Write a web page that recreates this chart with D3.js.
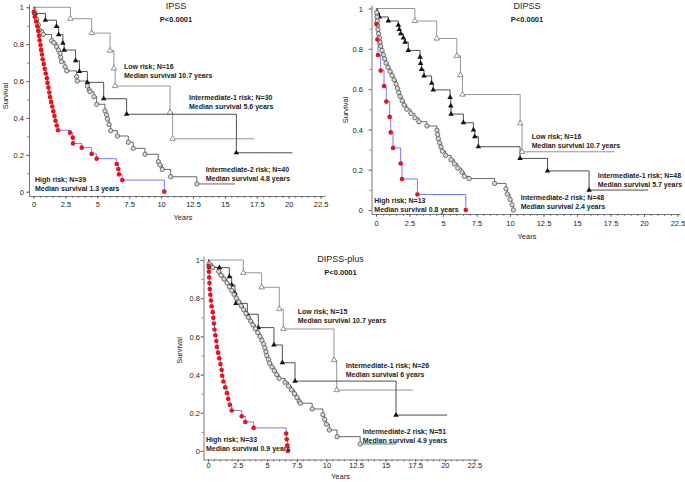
<!DOCTYPE html>
<html>
<head>
<meta charset="utf-8">
<script src="https://cdn.jsdelivr.net/npm/d3@7"></script>
<style>
body { margin: 0; background: #fff; }
svg { display: block; font-family: Arial, "Liberation Sans", sans-serif; }
</style>
</head>
<body>
<div id="chart"></div>
<script>
var xTicks = [0, 2.5, 5, 7.5, 10, 12.5, 15, 17.5, 20, 22.5];
var xTickLabels = ["0", "2.5", "5", "7.5", "10", "12.5", "15", "17.5", "20", "22.5"];
var yTicks = [0, 0.2, 0.4, 0.6, 0.8, 1];
var yTickLabels = ["0", "0.2", "0.4", "0.6", "0.8", "1"];

// each point = [years, survival] right after a death; *End = last follow-up
var ipssLow = [[2.9,0.938],[4.56,0.86],[6.0,0.765],[6.3,0.669],[6.4,0.573],[10.7,0.43],[10.9,0.287]];
var ipssLowEnd = 17.3;
var ipssInt1 = [[0.12,0.967],[0.93,0.93],[1.8,0.897],[1.97,0.852],[2.3,0.806],[2.4,0.768],[3.3,0.71],
  [3.6,0.652],[4.22,0.593],[5.5,0.504],[7.3,0.42],[15.9,0.211]];
var ipssInt1End = 20.3;
var ipssInt2 = [[0.07,0.971],[0.25,0.935],[0.38,0.904],[0.46,0.877],[0.77,0.853],[1.42,0.819],[1.6,0.808],
  [1.82,0.786],[1.95,0.768],[2.08,0.75],[2.13,0.729],[2.2,0.705],[2.47,0.678],[2.6,0.655],[3.38,0.624],
  [3.43,0.6],[4.22,0.573],[4.37,0.552],[4.43,0.542],[4.74,0.515],[4.95,0.474],[5.6,0.438],[5.74,0.416],
  [5.79,0.394],[5.92,0.365],[6.05,0.331],[6.57,0.302],[7.43,0.268],[7.82,0.235],[8.74,0.203],[9.78,0.163],
  [9.91,0.145],[10.1,0.121],[10.75,0.081],[12.8,0.042]];
var ipssInt2End = 15.8;
var ipssHigh = [[0.03,0.974],[0.1,0.949],[0.2,0.923],[0.3,0.897],[0.37,0.872],[0.43,0.846],[0.48,0.821],
  [0.55,0.795],[0.6,0.769],[0.66,0.744],[0.72,0.718],[0.8,0.692],[0.88,0.667],[0.96,0.641],[1.05,0.615],
  [1.1,0.59],[1.17,0.564],[1.24,0.538],[1.3,0.513],[1.38,0.487],[1.47,0.462],[1.55,0.436],[1.64,0.41],
  [1.72,0.385],[1.82,0.359],[1.92,0.333],[2.86,0.32],[3.08,0.293],[3.1,0.262],[3.78,0.239],[4.56,0.205],
  [4.95,0.179],[6.52,0.15],[6.65,0.123],[6.7,0.094],[6.96,0.063],[10.25,0]];
var ipssHighEnd = 10.25;

var dipssLow = [[2.9,0.938],[4.53,0.851],[6.03,0.765],[6.3,0.669],[6.45,0.573],[10.76,0.43],[10.9,0.289]];
var dipssLowEnd = 17.8;
var dipssInt1 = [[0.1,0.979],[0.25,0.958],[0.92,0.938],[1.67,0.917],[1.74,0.896],[1.84,0.875],[2.04,0.854],
  [2.17,0.833],[2.41,0.792],[3.29,0.758],[3.33,0.728],[3.4,0.698],[3.58,0.665],[4.15,0.629],[4.27,0.596],
  [5.53,0.559],[5.58,0.516],[5.6,0.476],[6.52,0.433],[7.27,0.397],[7.37,0.364],[7.64,0.314],[10.75,0.256],
  [12.8,0.194],[15.9,0.099]];
var dipssInt1End = 20.3;
var dipssInt2 = [[0.05,0.979],[0.08,0.958],[0.1,0.938],[0.12,0.917],[0.15,0.896],[0.2,0.875],[0.25,0.854],
  [0.3,0.833],[0.35,0.813],[0.45,0.792],[0.55,0.771],[0.65,0.75],[0.75,0.729],[0.9,0.708],[1.05,0.688],
  [1.2,0.667],[1.35,0.646],[1.5,0.625],[1.6,0.604],[1.7,0.583],[1.8,0.563],[1.95,0.542],[2.1,0.521],
  [2.3,0.5],[2.6,0.479],[2.9,0.458],[3.2,0.438],[3.8,0.417],[4.55,0.396],[4.6,0.375],[4.65,0.354],
  [4.75,0.333],[4.85,0.313],[4.95,0.292],[5.2,0.271],[5.6,0.25],[5.85,0.229],[6.1,0.208],[6.4,0.188],
  [6.6,0.167],[6.95,0.156],[8.85,0.132],[9.7,0.105],[9.8,0.079],[10.0,0.053],[10.15,0.026],[10.25,0]];
var dipssInt2End = 10.25;
var dipssHigh = [[0.03,0.923],[0.1,0.846],[0.15,0.769],[0.35,0.692],[0.6,0.615],[0.77,0.538],[1.02,0.462],
  [1.1,0.385],[1.27,0.308],[1.84,0.231],[1.94,0.154],[3.09,0.077],[6.7,0]];
var dipssHighEnd = 6.7;

var plusLow = [[2.98,0.933],[4.53,0.857],[6.02,0.743],[6.36,0.639],[10.64,0.476],[10.87,0.319]];
var plusLowEnd = 17.3;
var plusInt1 = [[0.1,0.962],[0.96,0.96],[1.8,0.913],[2.0,0.869],[2.28,0.826],[2.36,0.773],[3.32,0.716],
  [4.25,0.646],[5.57,0.555],[6.28,0.462],[7.35,0.366],[15.88,0.188]];
var plusInt1End = 20.2;
var plusInt2 = [[0.1,0.98],[0.4,0.96],[0.9,0.94],[1.1,0.92],[1.35,0.9],[1.6,0.88],[1.8,0.86],[2.0,0.84],
  [2.2,0.82],[2.4,0.8],[2.6,0.78],[2.8,0.76],[3.0,0.74],[3.2,0.72],[3.4,0.7],[3.6,0.68],[3.8,0.66],
  [4.0,0.64],[4.2,0.62],[4.4,0.6],[4.55,0.58],[4.7,0.56],[4.8,0.54],[4.9,0.52],[4.97,0.5],[5.1,0.48],
  [5.2,0.46],[5.4,0.44],[5.6,0.42],[5.8,0.4],[6.0,0.38],[6.5,0.36],[6.8,0.34],[7.05,0.32],[7.3,0.3],
  [7.5,0.28],[7.7,0.26],[7.8,0.25],[8.8,0.22],[9.7,0.19],[9.85,0.165],[10.0,0.14],[10.25,0.11],
  [10.9,0.075],[12.85,0.037]];
var plusInt2End = 15.9;
var plusHigh = [[0.05,0.97],[0.08,0.939],[0.1,0.909],[0.12,0.879],[0.15,0.848],[0.2,0.818],[0.25,0.788],
  [0.3,0.758],[0.4,0.727],[0.45,0.697],[0.5,0.667],[0.55,0.636],[0.62,0.606],[0.7,0.576],[0.75,0.545],
  [0.85,0.515],[0.95,0.485],[1.05,0.455],[1.15,0.424],[1.2,0.394],[1.3,0.364],[1.45,0.333],[1.6,0.303],
  [1.7,0.273],[1.85,0.242],[2.0,0.212],[2.85,0.182],[3.15,0.152],[3.85,0.121],[6.6,0.091],[6.65,0.061],
  [6.7,0.03],[6.75,0]];
var plusHighEnd = 6.75;

var titles = ["IPSS", "DIPSS", "DIPSS-plus"];
var pText = "P<0.0001";
var ipssNotes = [["Low risk; N=16", "Median survival 10.7 years"], ["Intermediate-1 risk; N=30", "Median survival 5.6 years"],
  ["Intermediate-2 risk; N=40", "Median survival 4.8 years"], ["High risk; N=39", "Median survival 1.3 years"]];
var dipssNotes = [["Low risk; N=16", "Median survival 10.7 years"], ["Intermediate-1 risk; N=48", "Median survival 5.7 years"],
  ["Intermediate-2 risk; N=48", "Median survival 2.4 years"], ["High risk; N=13", "Median survival 0.8 years"]];
var plusNotes = [["Low risk; N=15", "Median survival 10.7 years"], ["Intermediate-1 risk; N=26", "Median survival 6 years"],
  ["Intermediate-2 risk; N=51", "Median survival 4.9 years"], ["High risk; N=33", "Median survival 0.9 years"]];

var svg = d3.select("#chart").append("svg")
  .attr("width", 685)
  .attr("height", 482);

var panels = [
  {title: titles[0], titleX: 176, titleY: 8.5,
   xr: [33.5, 320.6], yr: [191.7, 7.3], axX: 29, axY: 196, axEnd: 325, axTop: 4, yLab: 24, xLabY: 207,
   survX: 7.5, survY: 96, yearsX: 183, yearsY: 220,
   series: [[ipssLow, ipssLowEnd], [ipssInt1, ipssInt1End], [ipssInt2, ipssInt2End], [ipssHigh, ipssHighEnd]],
   notes: ipssNotes, notePos: [[124, 68.5], [189, 100], [205.7, 172.3], [35, 181.7]]},
  {title: titles[1], titleX: 527, titleY: 8.5,
   xr: [376, 677.5], yr: [210, 8.5], axX: 371.5, axY: 214, axEnd: 680, axTop: 5, yLab: 363, xLabY: 226,
   survX: 347.5, survY: 110, yearsX: 527, yearsY: 239,
   series: [[dipssLow, dipssLowEnd], [dipssInt1, dipssInt1End], [dipssInt2, dipssInt2End], [dipssHigh, dipssHighEnd]],
   notes: dipssNotes, notePos: [[531.7, 139.3], [597.7, 178], [520.7, 200], [374.3, 203.3]]},
  {title: titles[2], titleX: 340.5, titleY: 262,
   xr: [208, 474.4], yr: [451, 260], axX: 203.5, axY: 459.5, axEnd: 478, axTop: 256, yLab: 200, xLabY: 468,
   survX: 182, survY: 350.5, yearsX: 340.5, yearsY: 478.5,
   series: [[plusLow, plusLowEnd], [plusInt1, plusInt1End], [plusInt2, plusInt2End], [plusHigh, plusHighEnd]],
   notes: plusNotes, notePos: [[297.7, 314.3], [345.7, 367.7], [362.7, 434], [206, 442.3]]}
];

// low, int-1, int-2, high
var lineColors = ["#8a8a8a", "#3a3a3a", "#555555", "#6d6df2"];

panels.forEach(function(p) {
  var x = d3.scaleLinear().domain([0, 22.5]).range(p.xr);
  var y = d3.scaleLinear().domain([0, 1]).range(p.yr);
  var g = svg.append("g");

  // axes share the data scale but run past it like the original
  var xa = d3.scaleLinear().domain([x.invert(p.axX), x.invert(p.axEnd)]).range([p.axX, p.axEnd]);
  var ya = d3.scaleLinear().domain([y.invert(p.axY), y.invert(p.axTop)]).range([p.axY, p.axTop]);

  var gx = g.append("g").attr("transform", "translate(0," + p.axY + ")")
    .call(d3.axisBottom(xa).tickValues(d3.range(0, 22.51, 0.5)).tickSize(2).tickSizeOuter(0).tickFormat(""));
  gx.append("g").call(d3.axisBottom(xa).tickValues(xTicks).tickSize(3)
    .tickFormat(function(d, i) { return xTickLabels[i]; }))
    .select(".domain").remove();
  var gy = g.append("g").attr("transform", "translate(" + p.axX + ",0)")
    .call(d3.axisLeft(ya).tickValues(d3.range(0, 1.01, 0.1)).tickSize(2).tickSizeOuter(0).tickFormat(""));
  gy.append("g").call(d3.axisLeft(ya).tickValues(yTicks).tickSize(3)
    .tickFormat(function(d, i) { return yTickLabels[i]; }))
    .select(".domain").remove();
  g.selectAll(".domain").attr("stroke", "#555").attr("stroke-width", 0.8);
  g.selectAll(".tick line").attr("stroke", "#555").attr("stroke-width", 0.7);
  g.selectAll(".tick text").attr("fill", "#222").style("font-size", "7.5px").style("font-family", "Arial, 'Liberation Sans', sans-serif");
  gx.selectAll(".tick text").attr("y", null).attr("dy", null)
    .attr("transform", "translate(0," + (p.xLabY - p.axY) + ")");
  gy.selectAll(".tick text").attr("x", null).attr("dy", "0.35em")
    .attr("transform", "translate(" + (p.yLab - p.axX) + ",0)");

  g.append("text").attr("x", p.titleX).attr("y", p.titleY).attr("text-anchor", "middle")
    .style("font-size", "9px").attr("fill", "#222").text(p.title);
  g.append("text").attr("x", p.titleX).attr("y", p.titleY + 13).attr("text-anchor", "middle")
    .style("font-size", "7.5px").style("font-weight", "bold").attr("fill", "#222").text(pText);
  g.append("text").attr("transform", "translate(" + p.survX + "," + p.survY + ") rotate(-90)")
    .attr("text-anchor", "middle").style("font-size", "7.5px").attr("fill", "#222").text("Survival");
  g.append("text").attr("x", p.yearsX).attr("y", p.yearsY).attr("text-anchor", "middle")
    .style("font-size", "7.5px").attr("fill", "#222").text("Years");

  var line = d3.line().curve(d3.curveStepAfter)
    .x(function(d) { return x(d[0]); })
    .y(function(d) { return y(d[1]); });

  p.series.forEach(function(s, k) {
    var pts = s[0];
    var path = [[0, 1]].concat(pts, [[s[1], pts[pts.length - 1][1]]]);
    g.append("path").attr("d", line(path)).attr("fill", "none")
      .attr("stroke", lineColors[k]).attr("stroke-width", 0.9);
  });

  p.series.forEach(function(s, k) {
    var m = g.append("g").selectAll("path").data(s[0]).enter().append("path")
      .attr("transform", function(d) { return "translate(" + x(d[0]) + "," + y(d[1]) + ")"; });
    if (k === 0) {
      m.attr("d", d3.symbol().type(d3.symbolTriangle).size(13)).attr("fill", "#fff").attr("stroke", "#666").attr("stroke-width", 0.7);
    } else if (k === 1) {
      m.attr("d", d3.symbol().type(d3.symbolTriangle).size(13)).attr("fill", "#111");
    } else if (k === 2) {
      m.attr("d", d3.symbol().type(d3.symbolCircle).size(15)).attr("fill", "#d8d8d8").attr("stroke", "#444").attr("stroke-width", 0.7);
    } else {
      m.attr("d", d3.symbol().type(d3.symbolCircle).size(17)).attr("fill", "#e8141c");
    }
  });

  p.notes.forEach(function(n, k) {
    g.append("text").attr("x", p.notePos[k][0]).attr("y", p.notePos[k][1])
      .style("font-size", "7px").style("font-weight", "bold").attr("fill", "#222").text(n[0]);
    g.append("text").attr("x", p.notePos[k][0]).attr("y", p.notePos[k][1] + 9)
      .style("font-size", "7px").style("font-weight", "bold").attr("fill", "#222").text(n[1]);
  });
});
</script>
</body>
</html>
